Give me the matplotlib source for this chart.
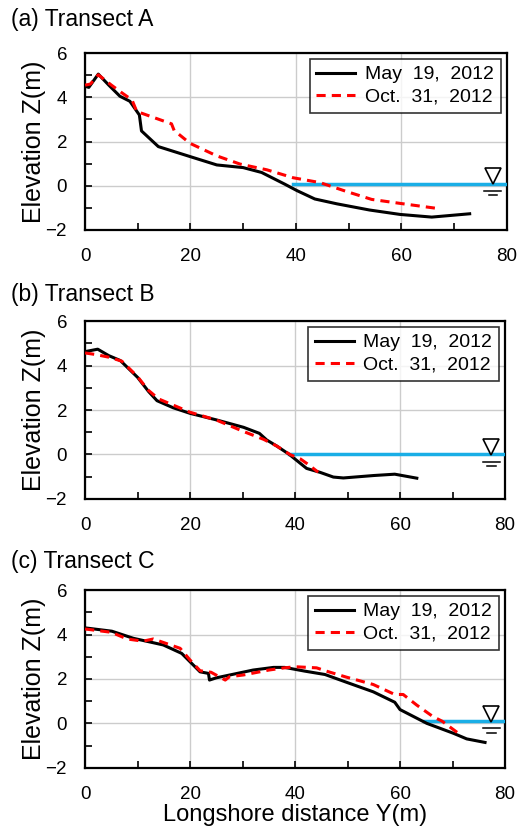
import numpy as np
import matplotlib
matplotlib.use("Agg")
import matplotlib.pyplot as plt
from matplotlib.ticker import MultipleLocator

plt.rcParams['font.family'] = ['Liberation Sans', 'DejaVu Sans']

# Transect A
a_may_y = [0, 0.7, 2.5, 4.5, 6.6, 8.5, 10.3, 10.7, 13.9, 19.9, 25, 30, 33.5, 37.9, 40.2, 43.6, 47.8, 54, 59.8, 65.8, 73]
a_may_z = [4.5, 4.45, 5.05, 4.55, 4.05, 3.82, 3.2, 2.48, 1.77, 1.32, 0.94, 0.82, 0.6, 0.07, -0.22, -0.6, -0.82, -1.1, -1.3, -1.42, -1.27]
a_oct_y = [0, 1, 2.5, 5, 7, 8.9, 9.8, 16.4, 16.9, 19.9, 25, 29.4, 34.5, 39.5, 44.6, 49.6, 54.4, 59.8, 66.6]
a_oct_z = [4.55, 4.6, 5.02, 4.55, 4.2, 3.88, 3.36, 2.8, 2.5, 1.92, 1.35, 0.98, 0.72, 0.36, 0.14, -0.26, -0.62, -0.8, -1.02]

# Transect B
b_may_y = [0, 2.4, 4.5, 6.7, 10, 12.1, 13.7, 16.8, 20, 25.1, 30.2, 33.2, 34.6, 36.5, 38.9, 42.2, 44.8, 47.3, 49.2, 55, 59, 63.2]
b_may_z = [4.63, 4.74, 4.45, 4.23, 3.47, 2.83, 2.42, 2.1, 1.85, 1.55, 1.22, 0.95, 0.65, 0.38, 0.0, -0.63, -0.81, -1.02, -1.06, -0.95, -0.89, -1.07]
b_oct_y = [0, 2, 4.5, 7, 10, 12, 14, 17, 20, 25, 30, 34, 36.5, 39, 41, 42.5, 44.4]
b_oct_z = [4.57, 4.5, 4.38, 4.2, 3.5, 2.9, 2.5, 2.2, 1.9, 1.55, 1.05, 0.68, 0.38, 0.0, -0.2, -0.45, -0.8]

# Transect C
c_may_y = [0, 5.1, 9.2, 14.9, 18.4, 20.3, 21.9, 23.5, 23.7, 25, 28, 32, 35.9, 38, 41.9, 45.7, 49.8, 54.9, 59, 60, 65.1, 70.2, 72.7, 76.2]
c_may_z = [4.3, 4.15, 3.83, 3.53, 3.15, 2.7, 2.32, 2.25, 1.95, 2.05, 2.2, 2.4, 2.52, 2.52, 2.35, 2.2, 1.85, 1.42, 0.95, 0.62, 0.0, -0.45, -0.7, -0.86]
c_oct_y = [0, 5, 8, 11, 13, 18.1, 20, 21.9, 24, 26.7, 27.5, 30.2, 35, 38, 40, 44.1, 46, 49.8, 54.9, 59, 60.6, 63.2, 66.3, 68, 71.3]
c_oct_z = [4.25, 4.1, 3.8, 3.7, 3.8, 3.38, 2.85, 2.37, 2.3, 1.95, 2.1, 2.18, 2.4, 2.5, 2.55, 2.5, 2.35, 2.08, 1.75, 1.3, 1.3, 0.82, 0.3, 0.1, -0.48]

titles = ['(a) Transect A', '(b) Transect B', '(c) Transect C']
wl_start = [39.5, 38.9, 64.6]
wl_level = [0.1, 0.0, 0.1]
labels = ['May  19,  2012', 'Oct.  31,  2012']

data = [(a_may_y, a_may_z, a_oct_y, a_oct_z),
        (b_may_y, b_may_z, b_oct_y, b_oct_z),
        (c_may_y, c_may_z, c_oct_y, c_oct_z)]

fig = plt.figure(figsize=(5.19, 8.3), dpi=100)
boxes = [[0.164, 0.723, 0.812, 0.213],
         [0.164, 0.399, 0.809, 0.214],
         [0.164, 0.075, 0.809, 0.214]]
title_y = [0.976, 0.645, 0.323]

for i in range(3):
  ax = fig.add_axes(boxes[i])
  my, mz, oy, oz = data[i]
  ax.plot(my, mz, color='black', lw=2.2, label=labels[0], zorder=4)
  ax.plot(oy, oz, color='red', lw=2.2, ls=(0, (3, 2)), label=labels[1], zorder=4)
  ax.plot([wl_start[i], 80], [wl_level[i], wl_level[i]], color='#1aaee6', lw=2.5, zorder=3)

  # water level symbol
  wl = wl_level[i]
  ax.plot([77.4], [wl + 0.33], marker='v', ms=11, mfc='white', mec='black', mew=1.2,
          ls='none', zorder=5, clip_on=False)
  ax.plot([75.8, 79.0], [wl - 0.32, wl - 0.32], color='black', lw=1.1, zorder=5)
  ax.plot([76.6, 78.2], [wl - 0.52, wl - 0.52], color='black', lw=1.1, zorder=5)

  ax.set_xlim(0, 80)
  ax.set_ylim(-2, 6)
  ax.xaxis.set_major_locator(MultipleLocator(20))
  ax.xaxis.set_minor_locator(MultipleLocator(10))
  ax.yaxis.set_major_locator(MultipleLocator(2))
  ax.yaxis.set_minor_locator(MultipleLocator(1))
  ax.tick_params(which='both', direction='in', labelsize=13.5, length=5, width=1.2)
  ax.tick_params(axis='x', pad=13)
  ax.tick_params(axis='y', pad=13)
  ax.grid(True, which='major', color='#cccccc', lw=1)
  ax.set_axisbelow(True)
  for s in ax.spines.values():
    s.set_linewidth(1.6)
  ax.set_ylabel('Elevation Z(m)', fontsize=18, labelpad=0)

  leg = ax.legend(loc='upper right', fontsize=14, frameon=True, fancybox=False,
                  handlelength=2.0, handletextpad=0.5, borderaxespad=0.3,
                  borderpad=0.35, labelspacing=0.25)
  leg.get_frame().set_edgecolor('black')
  leg.get_frame().set_linewidth(1.2)

  fig.text(0.022, title_y[i], titles[i], fontsize=16.5, ha='left', va='center')

ax.set_xlabel('Longshore distance Y(m)', fontsize=17, labelpad=1)

fig.savefig('out.png', dpi=100)
